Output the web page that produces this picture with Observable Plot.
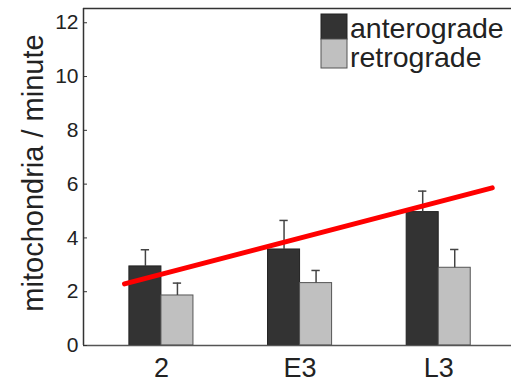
<!DOCTYPE html>
<html>
<head>
<meta charset="utf-8">
<script src="https://cdn.jsdelivr.net/npm/d3@7"></script>
<script src="https://cdn.jsdelivr.net/npm/@observablehq/plot@0.6"></script>
<style>
  body { margin: 0; background: #fff; overflow: hidden; }
  #chart { width: 511px; height: 382px; }
</style>
</head>
<body>
<div id="chart"></div>
<script>
// ---- data ----
const stages = ["2", "E3", "L3"];
const anterograde = [2.94, 3.57, 4.96];
const anterogradeErr = [0.62, 1.08, 0.78];
const retrograde = [1.86, 2.32, 2.89];
const retrogradeErr = [0.46, 0.47, 0.68];
const trendX = [-0.266, 2.386];
const trendY = [2.29, 5.86];
const yTicks = [0, 2, 4, 6, 8, 10, 12];
const seriesNames = ["anterograde", "retrograde"];
const yLabel = "mitochondria / minute";

// ---- build tables ----
const ant = stages.map((s, i) => ({i, v: anterograde[i], e: anterogradeErr[i]}));
const ret = stages.map((s, i) => ({i, v: retrograde[i], e: retrogradeErr[i]}));
const trend = trendX.map((x, k) => ({x, y: trendY[k]}));

const xMin = -0.562, xMax = 2.525, yMax = 12.53;
const w = 0.231;      // bar width in group units
const cap = 0.03;     // half-width of error caps
const font = "'Liberation Sans', Arial, Helvetica, sans-serif";
const dark = "#333333", light = "#c0c0c0";

function errMarks(data, off) {
  return [
    Plot.ruleX(data, {x: d => d.i + off, y1: "v", y2: d => d.v + d.e, stroke: "#444", strokeWidth: 1.5}),
    Plot.ruleY(data, {y: d => d.v + d.e, x1: d => d.i + off - cap, x2: d => d.i + off + cap, stroke: "#444", strokeWidth: 1.5})
  ];
}

const chart = Plot.plot({
  width: 511,
  height: 382,
  marginLeft: 83,
  marginRight: 0,
  marginTop: 8,
  marginBottom: 37,
  x: {domain: [xMin, xMax], axis: null},
  y: {domain: [0, yMax], axis: null},
  style: {fontFamily: font, color: "#222", background: "#fff", overflow: "visible"},
  marks: [
    Plot.rect(ant, {x1: d => d.i - w, x2: d => d.i, y1: 0, y2: "v", fill: dark, stroke: "#222", strokeWidth: 1}),
    Plot.rect(ret, {x1: d => d.i, x2: d => d.i + w, y1: 0, y2: "v", fill: light, stroke: "#555", strokeWidth: 1}),
    ...errMarks(ant, -w / 2),
    ...errMarks(ret, w / 2),
    Plot.line(trend, {x: "x", y: "y", stroke: "#ff0000", strokeWidth: 5}),
    Plot.ruleX([xMin], {stroke: "#333", strokeWidth: 1.5}),
    Plot.ruleY([0], {stroke: "#555", strokeWidth: 1.5}),
    Plot.ruleY([yMax], {stroke: "#333", strokeWidth: 1.5}),
    Plot.axisY({ticks: yTicks, tickSize: -4, tickPadding: 9, fontSize: 21, stroke: "#333", label: null}),
    Plot.axisX({ticks: [0, 1, 2], tickFormat: i => stages[i], tickSize: 0, tickPadding: 12, fontSize: 27, label: null}),
    Plot.text([yLabel], {frameAnchor: "left", textAnchor: "middle", lineAnchor: "middle", rotate: -90, dx: -50, dy: -4, fontSize: 29, fill: "#222"})
  ]
});

document.getElementById("chart").appendChild(chart);

// legend (top right, inside the frame)
const svg = d3.select(chart);
const lg = svg.append("g").attr("font-family", font).attr("font-size", 28.5).attr("fill", "#222").attr("text-anchor", "start");
lg.append("rect").attr("x", 321).attr("y", 14).attr("width", 26).attr("height", 25).attr("fill", dark).attr("stroke", "#222");
lg.append("rect").attr("x", 321).attr("y", 39).attr("width", 26).attr("height", 29).attr("fill", light).attr("stroke", "#555");
lg.append("text").attr("x", 350).attr("y", 38).text(seriesNames[0]);
lg.append("text").attr("x", 350).attr("y", 66.5).text(seriesNames[1]);
</script>
</body>
</html>
